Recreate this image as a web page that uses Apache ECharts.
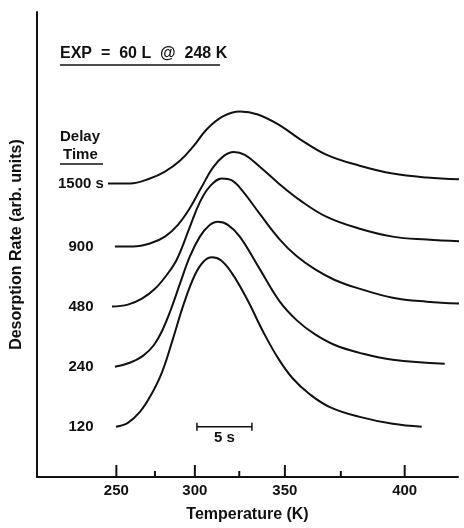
<!DOCTYPE html>
<html>
<head>
<meta charset="utf-8">
<script src="https://cdn.jsdelivr.net/npm/echarts@6/dist/echarts.min.js"></script>
<style>
html,body{margin:0;padding:0;background:#fff}
#main{width:464px;height:528px}
</style>
</head>
<body>
<div id="main"></div>
<script>
// x = time from start of ramp (s), y = desorption rate (arb. units)
var delayNames = ['120', '240', '480', '900', '1500 s'];

var curve120 = [[7.18,5.1],[8.27,5.5],[9.36,6.6],[10.36,8.3],[11.36,10.6],[12.36,14.0],[13.36,17.6],[14.36,20.5],[15.18,21.9],[15.91,22.3],[16.73,22.0],[17.73,20.7],[19.09,18.1],[20.55,14.8],[21.91,12.1],[23.27,10.0],[24.82,8.4],[26.64,7.1],[29.36,6.1],[32.36,5.4],[35.0,5.1]];
var curve240 = [[7.09,11.2],[8.45,11.6],[9.64,12.3],[10.64,13.4],[11.45,15.0],[12.18,17.0],[13.0,19.6],[13.91,22.4],[14.82,24.4],[15.64,25.5],[16.45,25.9],[17.36,25.6],[18.45,24.4],[20.27,21.1],[22.09,17.8],[23.64,15.9],[25.27,14.5],[27.09,13.4],[29.36,12.6],[32.36,11.9],[37.09,11.5]];
var curve480 = [[6.82,17.3],[8.27,17.5],[9.55,18.1],[10.73,19.1],[11.73,20.4],[12.73,22.1],[13.91,25.4],[14.82,27.9],[15.73,29.5],[16.82,30.3],[17.73,30.1],[18.73,29.0],[20.27,26.7],[22.09,24.1],[23.64,22.4],[25.27,21.1],[27.09,20.0],[29.09,19.2],[32.36,18.2],[35.45,17.8],[38.82,17.6]];
var curve900 = [[7.09,23.4],[8.73,23.4],[10.27,23.7],[11.64,24.4],[12.82,25.6],[13.91,27.3],[14.91,29.3],[16.0,31.4],[17.0,32.6],[17.91,33.0],[18.91,32.7],[20.27,31.5],[22.09,29.7],[23.91,28.1],[26.36,26.4],[29.36,25.2],[32.36,24.4],[35.45,24.1],[38.82,23.9]];
var curve1500 = [[6.45,29.8],[8.45,29.8],[10.27,30.3],[11.64,31.0],[13.0,32.1],[14.18,33.5],[15.45,35.3],[16.91,36.6],[18.45,37.1],[20.09,36.8],[22.09,35.7],[23.91,34.3],[26.36,32.7],[29.36,31.6],[32.36,30.8],[35.45,30.4],[38.82,30.2]];
var curves = [curve120, curve240, curve480, curve900, curve1500];

// temperature ticks and where they fall on the time axis
var tickTemps = [250, 275, 300, 325, 350, 375, 400];
var tickTimes = [7.22, 10.73, 14.36, 18.4, 22.55, 27.64, 33.45];

// 5 s scale bar: start, end, height
var scaleBar = [14.55, 19.55, 5.1];

var FONT = 'Liberation Sans, Arial, sans-serif';
var INK = '#111';

var myChart = echarts.init(document.getElementById('main'));

var series = curves.map(function (c, i) {
    return {
        name: delayNames[i],
        type: 'line',
        data: c,
        smooth: 0.4,
        symbol: 'none',
        clip: false,
        silent: true,
        lineStyle: { color: INK, width: 2 }
    };
});

// delay-time labels left of each curve
series.push({
    type: 'custom',
    silent: true,
    data: curves.map(function (c, i) { return [4.0, c[0][1], i]; }),
    renderItem: function (params, api) {
        var p = api.coord([api.value(0), api.value(1)]);
        return {
            type: 'text',
            style: {
                text: delayNames[api.value(2)], x: p[0], y: p[1],
                align: 'center', verticalAlign: 'middle',
                font: 'bold 15px ' + FONT, fill: INK
            }
        };
    }
});

// temperature ticks
series.push({
    type: 'custom',
    silent: true,
    clip: false,
    data: tickTimes.map(function (t, i) { return [t, tickTemps[i]]; }),
    renderItem: function (params, api) {
        var temp = api.value(1);
        var p = api.coord([api.value(0), 0]);
        var major = temp % 50 === 0;
        var kids = [{
            type: 'line',
            shape: { x1: p[0], y1: p[1], x2: p[0], y2: p[1] - (major ? 12 : 6) },
            style: { stroke: INK, lineWidth: 2 }
        }];
        if (major) {
            kids.push({
                type: 'text',
                style: {
                    text: String(temp), x: p[0], y: p[1] + 6,
                    align: 'center', verticalAlign: 'top',
                    font: 'bold 15px ' + FONT, fill: INK
                }
            });
        }
        return { type: 'group', children: kids };
    }
});

// scale bar
series.push({
    type: 'custom',
    silent: true,
    data: [scaleBar],
    renderItem: function (params, api) {
        var a = api.coord([api.value(0), api.value(2)]);
        var b = api.coord([api.value(1), api.value(2)]);
        var st = { stroke: INK, lineWidth: 1.5 };
        return {
            type: 'group',
            children: [
                { type: 'line', shape: { x1: a[0], y1: a[1], x2: b[0], y2: b[1] }, style: st },
                { type: 'line', shape: { x1: a[0], y1: a[1] - 4, x2: a[0], y2: a[1] + 4 }, style: st },
                { type: 'line', shape: { x1: b[0], y1: b[1] - 4, x2: b[0], y2: b[1] + 4 }, style: st },
                {
                    type: 'text',
                    style: {
                        text: '5 s', x: (a[0] + b[0]) / 2, y: a[1] + 4,
                        align: 'center', verticalAlign: 'top',
                        font: 'bold 15px ' + FONT, fill: INK
                    }
                }
            ]
        };
    }
});

var option = {
    animation: false,
    grid: { left: 37, top: 12, width: 421, height: 472 },
    xAxis: {
        type: 'value',
        min: 0,
        max: 38.3,
        name: 'Temperature (K)',
        nameLocation: 'middle',
        nameGap: 30,
        nameTextStyle: { color: INK, fontWeight: 'bold', fontSize: 16, fontFamily: FONT },
        axisLine: { lineStyle: { color: INK, width: 2 } },
        axisTick: { show: false },
        axisLabel: { show: false },
        splitLine: { show: false }
    },
    yAxis: {
        type: 'value',
        min: 0,
        max: 47.2,
        name: 'Desorption Rate (arb. units)',
        nameLocation: 'middle',
        nameGap: 12,
        nameTextStyle: { color: INK, fontWeight: 'bold', fontSize: 16, fontFamily: FONT },
        axisLine: { show: true, lineStyle: { color: INK, width: 2 } },
        axisTick: { show: false },
        axisLabel: { show: false },
        splitLine: { show: false }
    },
    graphic: [
        {
            type: 'text', left: 60, top: 46,
            style: { text: 'EXP  =  60 L  @  248 K', font: 'bold 16px ' + FONT, fill: INK }
        },
        {
            type: 'line', shape: { x1: 60, y1: 65, x2: 220, y2: 65 },
            style: { stroke: INK, lineWidth: 1.5 }
        },
        {
            type: 'text', left: 60, top: 129,
            style: { text: 'Delay', font: 'bold 15px ' + FONT, fill: INK }
        },
        {
            type: 'text', left: 63, top: 147,
            style: { text: 'Time', font: 'bold 15px ' + FONT, fill: INK }
        },
        {
            type: 'line', shape: { x1: 60, y1: 164, x2: 103, y2: 164 },
            style: { stroke: INK, lineWidth: 1.5 }
        }
    ],
    series: series
};
myChart.setOption(option);
</script>
</body>
</html>
